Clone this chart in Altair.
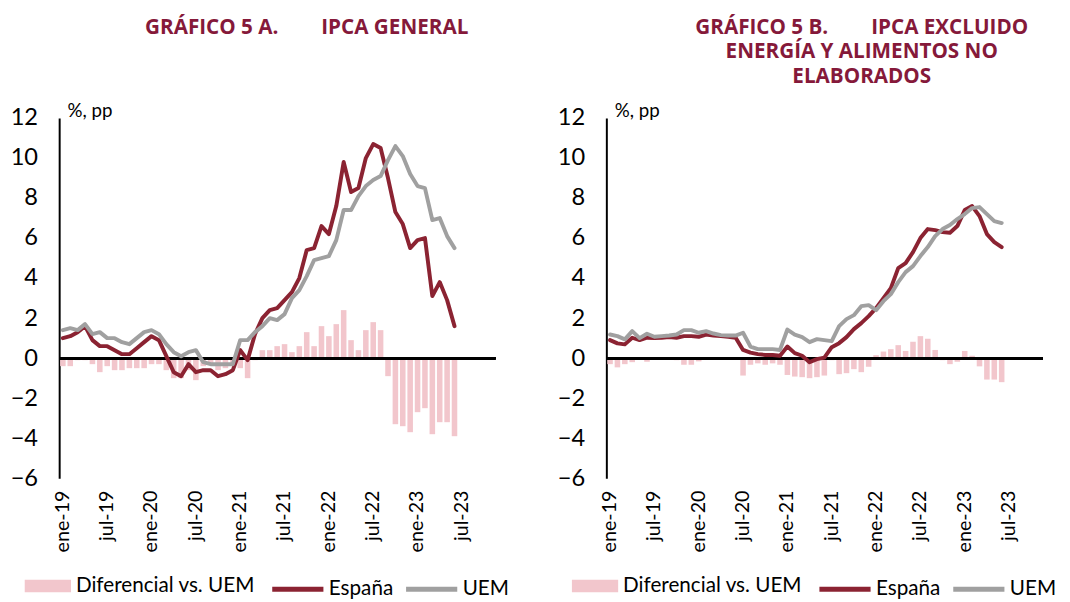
import altair as alt
import pandas as pd

MESES = ["ene", "feb", "mar", "abr", "may", "jun", "jul", "ago", "sep", "oct", "nov", "dic"]
categorias = [f"{m}-{a}" for a in ["19", "20", "21", "22", "23"] for m in MESES][:59]
etiquetas_x = ["ene-19", "jul-19", "ene-20", "jul-20", "ene-21", "jul-21",
               "ene-22", "jul-22", "ene-23", "jul-23"]

# Panel A: IPCA general
espana_a = [1.0, 1.1, 1.3, 1.6, 0.9, 0.6, 0.6, 0.4, 0.2, 0.2, 0.5, 0.8,
            1.1, 0.9, 0.1, -0.7, -0.9, -0.3, -0.7, -0.6, -0.6, -0.9, -0.8, -0.6,
            0.4, -0.1, 1.2, 2.0, 2.4, 2.5, 2.9, 3.3, 4.0, 5.4, 5.5, 6.6,
            6.2, 7.6, 9.8, 8.3, 8.5, 10.0, 10.7, 10.5, 9.0, 7.3, 6.7, 5.5,
            5.9, 6.0, 3.1, 3.8, 2.9, 1.6]
uem_a = [1.4, 1.5, 1.4, 1.7, 1.2, 1.3, 1.0, 1.0, 0.8, 0.7, 1.0, 1.3,
         1.4, 1.2, 0.7, 0.3, 0.1, 0.3, 0.4, -0.2, -0.3, -0.3, -0.3, -0.3,
         0.9, 0.9, 1.3, 1.6, 2.0, 1.9, 2.2, 3.0, 3.4, 4.1, 4.9, 5.0,
         5.1, 5.9, 7.4, 7.4, 8.1, 8.6, 8.9, 9.1, 9.9, 10.6, 10.1, 9.2,
         8.6, 8.5, 6.9, 7.0, 6.1, 5.5]
dif_a = [-0.4, -0.4, -0.1, -0.1, -0.3, -0.7, -0.4, -0.6, -0.6, -0.5, -0.5, -0.5,
         -0.3, -0.3, -0.6, -1.0, -1.0, -0.6, -1.1, -0.4, -0.3, -0.6, -0.5, -0.3,
         -0.5, -1.0, -0.1, 0.4, 0.4, 0.6, 0.7, 0.3, 0.6, 1.3, 0.6, 1.6,
         1.1, 1.7, 2.4, 0.9, 0.4, 1.4, 1.8, 1.4, -0.9, -3.3, -3.4, -3.7,
         -2.7, -2.5, -3.8, -3.2, -3.2, -3.9]

# Panel B: IPCA excluido energía y alimentos no elaborados
espana_b = [0.9, 0.74, 0.69, 1.02, 0.9, 1.02, 1.0, 1.02, 1.05, 1.02, 1.1, 1.1,
            1.07, 1.18, 1.13, 1.1, 1.07, 1.02, 0.41, 0.28, 0.2, 0.16, 0.16, 0.12,
            0.58, 0.25, 0.12, -0.2, -0.05, 0.03, 0.55, 0.75, 1.05, 1.45, 1.75, 2.1,
            2.5, 3.0, 3.5, 4.5, 4.75, 5.3, 6.0, 6.45, 6.4, 6.3, 6.27, 6.6,
            7.4, 7.6, 7.1, 6.2, 5.8, 5.55]
uem_b = [1.18, 1.1, 0.94, 1.35, 1.0, 1.22, 1.07, 1.1, 1.13, 1.18, 1.4, 1.4,
         1.27, 1.35, 1.23, 1.15, 1.13, 1.13, 1.27, 0.58, 0.45, 0.45, 0.45, 0.41,
         1.43, 1.18, 1.05, 0.8, 0.95, 0.9, 0.85, 1.6, 1.95, 2.15, 2.6, 2.65,
         2.4, 2.85, 3.2, 3.8, 4.3, 4.6, 5.1, 5.55, 6.1, 6.45, 6.65, 6.95,
         7.2, 7.5, 7.55, 7.2, 6.85, 6.75]
dif_b = [-0.3, -0.46, -0.3, -0.2, 0.0, -0.18, 0.0, 0.0, 0.0, -0.1, -0.33, -0.33,
         -0.16, 0.0, 0.0, 0.0, -0.03, -0.05, -0.87, -0.33, -0.26, -0.33, -0.26, -0.33,
         -0.84, -0.92, -0.95, -1.0, -0.95, -0.87, -0.1, -0.8, -0.75, -0.55, -0.7, -0.43,
         0.15, 0.33, 0.45, 0.65, 0.36, 0.82, 1.1, 0.97, 0.41, -0.1, -0.3, -0.18,
         0.36, 0.12, -0.41, -1.07, -1.07, -1.2]

NB = "\u00a0"
titulo_a = ["GRÁFICO 5 A." + NB * 8 + "IPCA GENERAL", NB, NB]
titulo_b = ["GRÁFICO 5 B." + NB * 8 + "IPCA EXCLUIDO" + NB * 5,
            "ENERGÍA Y ALIMENTOS NO", "ELABORADOS"]

ROJO = "#8B2332"
GRIS = "#A0A0A0"
ROSA = "#F2C6CC"
TITULO = "#85193A"
FUENTE = "Lato"

W, H = 443, 366


def panel(esp, uem, dif, titulo, dx):
    n = len(esp)
    meses = categorias[:n]
    bars_df = pd.DataFrame({"mes": meses, "valor": dif, "serie": ["Diferencial vs. UEM"] * n})
    lines_df = pd.DataFrame({"mes": meses + meses, "valor": esp + uem,
                             "serie": ["España"] * n + ["UEM"] * n})

    x = alt.X("mes:O",
              scale=alt.Scale(domain=categorias, paddingInner=0.25, paddingOuter=0.125),
              axis=alt.Axis(values=etiquetas_x, labelAngle=-90, domain=False, ticks=False,
                            tickSize=0, title=None, labelFontSize=20, labelFont=FUENTE,
                            labelColor="black", labelPadding=12, labelBaseline="middle",
                            labelAlign="right"),
              sort=categorias)
    y = alt.Y("valor:Q",
              scale=alt.Scale(domain=[-6, 12], nice=False, zero=False),
              axis=alt.Axis(values=list(range(-6, 13, 2)), grid=False, ticks=False,
                            tickSize=0, domain=True, domainColor="black", domainWidth=2,
                            labelFontSize=24, labelFont=FUENTE, labelColor="black",
                            labelPadding=22, title="%, pp", titleAngle=0, titleX=8,
                            titleY=-8, titleAlign="left", titleBaseline="middle",
                            titleFontSize=19, titleFontWeight="normal", titleFont=FUENTE,
                            titleColor="black"))

    bars = alt.Chart(bars_df).mark_bar().encode(
        x=x, y=y,
        fill=alt.Fill("serie:N",
                      scale=alt.Scale(domain=["Diferencial vs. UEM"], range=[ROSA]),
                      legend=alt.Legend(title=None, orient="none", legendX=-35, legendY=452,
                                        direction="horizontal",
                                        symbolType="M-1,-0.27H1V0.27H-1Z", symbolSize=2209,
                                        symbolStrokeWidth=0, symbolOpacity=1,
                                        labelFontSize=21, labelFont=FUENTE, labelLimit=400,
                                        labelColor="black", labelOffset=5)),
    )
    zero = alt.Chart(bars_df).mark_rule(color="black", strokeWidth=2).encode(y=alt.datum(0))
    lines = alt.Chart(lines_df).mark_line(strokeWidth=4, strokeJoin="round", strokeCap="round").encode(
        x=x, y=y,
        stroke=alt.Stroke("serie:N",
                          scale=alt.Scale(domain=["España", "UEM"], range=[ROJO, GRIS]),
                          legend=alt.Legend(title=None, orient="none", legendX=214, legendY=450,
                                            direction="horizontal", symbolType="stroke",
                                            symbolSize=2704, symbolStrokeWidth=5,
                                            labelFontSize=21, labelFont=FUENTE, labelLimit=400,
                                            labelColor="black", labelOffset=3,
                                            columnPadding=2)),
    )
    return alt.layer(bars, zero, lines).properties(
        width=W, height=H,
        title=alt.TitleParams(text=titulo, fontSize=21, font="Open Sans", fontWeight="bold",
                              color=TITULO, anchor="middle", dx=dx, offset=15,
                              lineHeight=24.5),
    )


izq = panel(espana_a, uem_a, dif_a, titulo_a, 30)
der = panel(espana_b, uem_b, dif_b, titulo_b, 38)

chart = alt.hconcat(izq, der, spacing=48).resolve_scale(
    fill="independent", stroke="independent", x="independent", y="independent"
).properties(
    padding={"left": 2, "top": 5, "right": 5, "bottom": 0},
    background="white",
).configure_view(stroke=None)

chart.save("out.html", embed_options={"renderer": "svg", "actions": False})
